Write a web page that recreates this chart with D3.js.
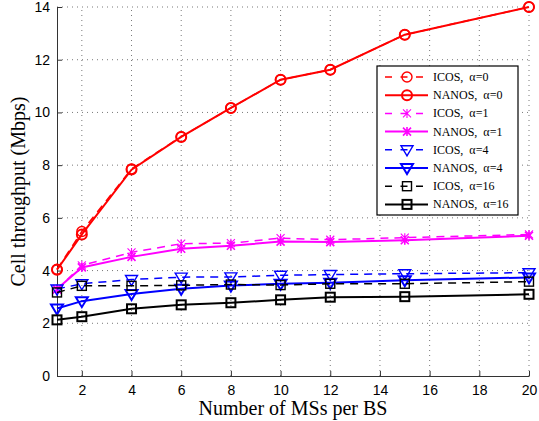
<!DOCTYPE html>
<html>
<head>
<meta charset="utf-8">
<script src="https://cdn.jsdelivr.net/npm/d3@7"></script>
<style>
    body { margin: 0; background: #fff; }
    #chart { width: 539px; height: 421px; }
    .tick text { font-family: "Liberation Sans", Arial, sans-serif; font-size: 14px; fill: #000; }
    .title { font-family: "Liberation Serif", "Times New Roman", serif; font-size: 20px; fill: #000; }
    .legendText { font-family: "Liberation Serif", "Times New Roman", serif; font-size: 12px; fill: #000; }
</style>
</head>
<body>
<div id="chart"></div>
<script>

var msCount = [1, 2, 4, 6, 8, 10, 12, 15, 20];

var icosA0  = [4.05, 5.48, 7.86, 9.08, 10.17, 11.24, 11.62, 12.95, 14.0];
var nanosA0 = [4.03, 5.37, 7.83, 9.07, 10.17, 11.24, 11.62, 12.95, 14.0];
var icosA1  = [3.28, 4.2, 4.69, 5.02, 5.04, 5.23, 5.17, 5.25, 5.37];
var nanosA1 = [3.3, 4.12, 4.52, 4.83, 4.94, 5.1, 5.08, 5.15, 5.32];
var icosA4  = [3.3, 3.5, 3.66, 3.75, 3.76, 3.82, 3.85, 3.88, 3.92];
var nanosA4 = [2.56, 2.84, 3.11, 3.31, 3.43, 3.5, 3.54, 3.63, 3.74];
var icosA16 = [3.17, 3.42, 3.42, 3.44, 3.47, 3.45, 3.5, 3.5, 3.58];
var nanosA16 = [2.13, 2.25, 2.55, 2.7, 2.78, 2.89, 2.99, 3.01, 3.1];

var xTicks = [2, 4, 6, 8, 10, 12, 14, 16, 18, 20];
var yTicks = [0, 2, 4, 6, 8, 10, 12, 14];

var seriesNames = ["ICOS,  \u03b1=0", "NANOS,  \u03b1=0", "ICOS,  \u03b1=1", "NANOS,  \u03b1=1",
                   "ICOS,  \u03b1=4", "NANOS,  \u03b1=4", "ICOS,  \u03b1=16", "NANOS,  \u03b1=16"];
var seriesValues = [icosA0, nanosA0, icosA1, nanosA1, icosA4, nanosA4, icosA16, nanosA16];
var seriesColors = ["#ff0000", "#ff0000", "#ff00ff", "#ff00ff", "#0000ff", "#0000ff", "#000000", "#000000"];
var seriesMarkers = ["circle", "circle", "cross", "cross", "triangle", "triangle", "square", "square"];

var width = 539, height = 421;
var margin = {top: 7, right: 10, bottom: 45, left: 57};

var svg = d3.select("#chart")
    .append("svg")
    .attr("width", width)
    .attr("height", height);

var xScale = d3.scaleLinear()
    .domain([1, 20])
    .range([margin.left, width - margin.right]);

var yScale = d3.scaleLinear()
    .domain([0, 14])
    .range([height - margin.bottom, margin.top]);

// dotted grid
svg.append("g")
    .selectAll("line")
    .data(xTicks)
    .enter()
    .append("line")
        .attr("x1", function(d) { return xScale(d); })
        .attr("x2", function(d) { return xScale(d); })
        .attr("y1", yScale(0))
        .attr("y2", yScale(14))
        .attr("stroke", "#555")
        .attr("stroke-width", 0.8)
        .attr("stroke-dasharray", "1,4");

svg.append("g")
    .selectAll("line")
    .data(yTicks.slice(1))
    .enter()
    .append("line")
        .attr("x1", xScale(1))
        .attr("x2", xScale(20))
        .attr("y1", function(d) { return yScale(d); })
        .attr("y2", function(d) { return yScale(d); })
        .attr("stroke", "#555")
        .attr("stroke-width", 0.8)
        .attr("stroke-dasharray", "1,4");

// axes, ticks pointing inward
var xAxis = d3.axisBottom(xScale).tickValues(xTicks).tickSizeInner(-5).tickSizeOuter(0).tickPadding(9);
var yAxis = d3.axisLeft(yScale).tickValues(yTicks).tickSizeInner(-5).tickSizeOuter(0).tickPadding(7);

svg.append("g")
    .attr("transform", "translate(0," + yScale(0) + ")")
    .call(xAxis)
    .call(function(g) {
        g.select(".domain").attr("stroke", "#333");
        g.selectAll(".tick line").attr("stroke", "#333");
        g.selectAll(".tick text").attr("font-size", null).attr("font-family", null);
    });

svg.append("g")
    .attr("transform", "translate(" + xScale(1) + ",0)")
    .call(yAxis)
    .call(function(g) {
        g.select(".domain").attr("stroke", "#333");
        g.selectAll(".tick line").attr("stroke", "#333");
        g.selectAll(".tick text").attr("font-size", null).attr("font-family", null);
    });

svg.append("text")
    .attr("class", "title")
    .attr("x", (xScale(1) + xScale(20)) / 2)
    .attr("y", 415)
    .attr("text-anchor", "middle")
    .text("Number of MSs per BS");

svg.append("text")
    .attr("class", "title")
    .attr("transform", "translate(25," + (yScale(7)) + ") rotate(-90)")
    .attr("text-anchor", "middle")
    .text("Cell throughput (Mbps)");

function drawMarker(g, type, color, isNanos) {
    var sw = isNanos ? 2 : 1.4;
    if (type == "circle") {
        g.append("circle").attr("r", 5).attr("fill", "none").attr("stroke", color).attr("stroke-width", sw);
    } else if (type == "cross") {
        g.append("path").attr("d", "M-4,-4L4,4M-4,4L4,-4M0,-4.5L0,4.5")
            .attr("fill", "none").attr("stroke", color).attr("stroke-width", sw * 0.8);
    } else if (type == "triangle") {
        g.append("path").attr("d", "M-6,-4L6,-4L0,6Z")
            .attr("fill", "none").attr("stroke", color).attr("stroke-width", sw);
    } else if (type == "square") {
        g.append("rect").attr("x", -4.5).attr("y", -4.5).attr("width", 9).attr("height", 9)
            .attr("fill", "none").attr("stroke", color).attr("stroke-width", sw);
    }
}

var line = d3.line()
    .x(function(d, i) { return xScale(msCount[i]); })
    .y(function(d) { return yScale(d); });

seriesValues.forEach(function(vals, s) {
    var isNanos = s % 2 == 1;
    var g = svg.append("g");
    g.append("path")
        .attr("d", line(vals))
        .attr("fill", "none")
        .attr("stroke", seriesColors[s])
        .attr("stroke-width", isNanos ? 2 : 1.5)
        .attr("stroke-dasharray", isNanos ? null : "8,6");

    vals.forEach(function(v, i) {
        var m = g.append("g")
            .attr("transform", "translate(" + xScale(msCount[i]) + "," + yScale(v) + ")");
        drawMarker(m, seriesMarkers[s], seriesColors[s], isNanos);
    });
});

// legend
var legend = svg.append("g").attr("transform", "translate(377,66)");

legend.append("rect")
    .attr("width", 141)
    .attr("height", 149)
    .attr("fill", "#fff")
    .attr("stroke", "#000")
    .attr("stroke-width", 1.2);

seriesNames.forEach(function(name, s) {
    var isNanos = s % 2 == 1;
    var ly = 11 + s * 18.2;
    var row = legend.append("g").attr("transform", "translate(0," + ly + ")");
    row.append("line")
        .attr("x1", 8).attr("x2", 51)
        .attr("y1", 0).attr("y2", 0)
        .attr("stroke", seriesColors[s])
        .attr("stroke-width", isNanos ? 2 : 1.5)
        .attr("stroke-dasharray", isNanos ? null : "7,8.5");
    var m = row.append("g").attr("transform", "translate(30,0)");
    drawMarker(m, seriesMarkers[s], seriesColors[s], isNanos);
    row.append("text")
        .attr("class", "legendText")
        .attr("x", 56)
        .attr("y", 4)
        .attr("xml:space", "preserve")
        .text(name);
});

</script>
</body>
</html>
